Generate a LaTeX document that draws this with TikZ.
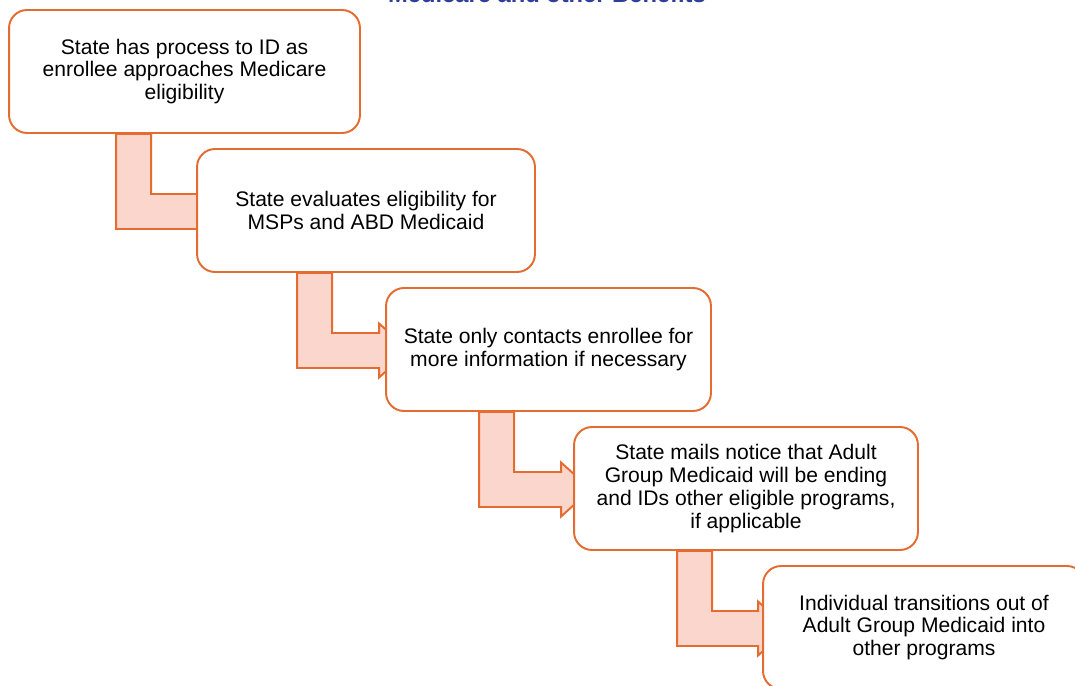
\documentclass[tikz,border=0pt]{standalone}
\usepackage{fontspec}
\setmainfont{Liberation Sans}
\usetikzlibrary{calc,backgrounds}
\definecolor{stepline}{RGB}{228,108,48}
\definecolor{stepfill}{RGB}{250,214,204}
\definecolor{titleblue}{RGB}{47,62,158}
\tikzset{
	stage/.style={draw=stepline, line width=1.1pt, fill=white, rounded corners=0.36cm,
		align=center, inner sep=0pt, minimum height=2.46cm,
		font=\fontsize{12}{13}\selectfont},
	joinarrow/.style={draw=stepline, fill=stepfill, line width=1.1pt, line join=miter}
}
\begin{document}
\begin{tikzpicture}[x=0.02cm,y=-0.02cm]
		\useasboundingbox (0,0) rectangle (1075,686);
		\node[anchor=base, text=titleblue, font=\bfseries\fontsize{13.5}{15}\selectfont] (title) at (547,2.5) {Medicare and other Benefits};
		% the stages, one below the other
		\node[stage, minimum width=7.02cm] (b1) at (184.5,71.5) {State has process to ID as\\enrollee approaches Medicare\\eligibility};
		\node[stage, minimum width=6.76cm] (b2) at (366,210.5) {State evaluates eligibility for\\MSPs and ABD Medicaid};
		\node[stage, minimum width=6.5cm] (b3) at (548.5,349.5) {State only contacts enrollee for\\more information if necessary};
		\node[stage, minimum width=6.88cm] (b4) at (746,488.5) {State mails notice that Adult\\Group Medicaid will be ending\\and IDs other eligible programs,\\if applicable};
		\node[stage, minimum width=6.44cm] (b5) at (924,627.5) {Individual transitions out of\\Adult Group Medicaid into\\other programs};
		% bent arrows behind the boxes, tips hidden
		\begin{scope}[on background layer]
			\foreach \a/\b/\s/\h in {1/2/108/2, 2/3/101/-6, 3/4/94/-12, 4/5/104/-4}{
				\path ($(b\a.south west)+(\s,0)$) coordinate (sa)
				($(b\a.south west)+(\s+35,0)$) coordinate (sb)
				($(b\b.west)+(\h,1)$) coordinate (hd);
				\filldraw[joinarrow] (sa) -- ($(sa |- hd)+(0,17.5)$) -- ($(hd)+(0,17.5)$) -- ($(hd)+(0,27)$)
				-- ($(hd)+(30,0)$) -- ($(hd)+(0,-27)$) -- ($(hd)+(0,-17.5)$) -- ($(sb |- hd)+(0,-17.5)$) -- (sb) -- cycle;
			}
		\end{scope}
	\end{tikzpicture}
\end{document}
